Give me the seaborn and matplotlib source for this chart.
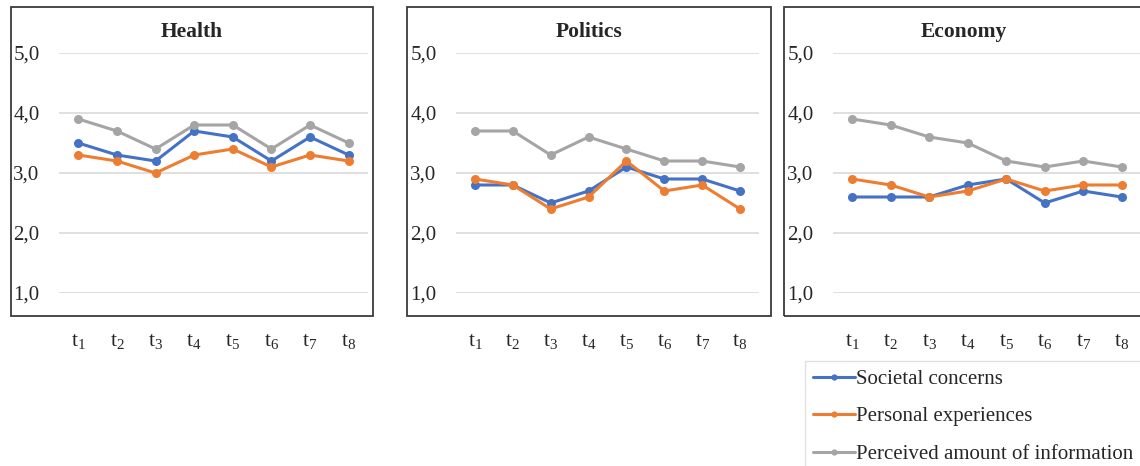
import numpy as np
import pandas as pd
import matplotlib
matplotlib.use("Agg")
import matplotlib.pyplot as plt
from matplotlib.patches import Rectangle
from matplotlib.lines import Line2D
import seaborn as sns

# data
times = ["t$_1$", "t$_2$", "t$_3$", "t$_4$", "t$_5$", "t$_6$", "t$_7$", "t$_8$"]
domains = ["Health", "Politics", "Economy"]
series = ["Societal concerns", "Personal experiences", "Perceived amount of information"]

health_societal = [3.5, 3.3, 3.2, 3.7, 3.6, 3.2, 3.6, 3.3]
health_personal = [3.3, 3.2, 3.0, 3.3, 3.4, 3.1, 3.3, 3.2]
health_info = [3.9, 3.7, 3.4, 3.8, 3.8, 3.4, 3.8, 3.5]

politics_societal = [2.8, 2.8, 2.5, 2.7, 3.1, 2.9, 2.9, 2.7]
politics_personal = [2.9, 2.8, 2.4, 2.6, 3.2, 2.7, 2.8, 2.4]
politics_info = [3.7, 3.7, 3.3, 3.6, 3.4, 3.2, 3.2, 3.1]

economy_societal = [2.6, 2.6, 2.6, 2.8, 2.9, 2.5, 2.7, 2.6]
economy_personal = [2.9, 2.8, 2.6, 2.7, 2.9, 2.7, 2.8, 2.8]
economy_info = [3.9, 3.8, 3.6, 3.5, 3.2, 3.1, 3.2, 3.1]

y_ticks = [1.0, 2.0, 3.0, 4.0, 5.0]
y_labels = ["1,0", "2,0", "3,0", "4,0", "5,0"]

colors = ["#4472C4", "#ED7D31", "#A5A5A5"]

values = {
    "Health": [health_societal, health_personal, health_info],
    "Politics": [politics_societal, politics_personal, politics_info],
    "Economy": [economy_societal, economy_personal, economy_info],
}

rows = []
for d in domains:
    for s, vals in zip(series, values[d]):
        for i, v in enumerate(vals):
            rows.append({"domain": d, "series": s, "t": i, "value": v})
df = pd.DataFrame(rows)

sns.set_style("white")
plt.rcParams["font.family"] = ["Liberation Serif", "DejaVu Serif"]
plt.rcParams["mathtext.fontset"] = "custom"
plt.rcParams["mathtext.rm"] = "Liberation Serif"
plt.rcParams["mathtext.it"] = "Liberation Serif"

W, H = 1140, 466
fig = plt.figure(figsize=(W / 100, H / 100), dpi=100)

# axes placement in pixels: (left, right)
axes_px = [(59, 368), (456, 759), (833, 1141)]
boxes_px = [(11, 373), (407, 771), (784, 1150)]
title_x = [192, 589, 964]
top_px, bot_px = 53, 293
box_top, box_bot = 7, 316

for d, (l, r), (bl, br), tx in zip(domains, axes_px, boxes_px, title_x):
    ax = fig.add_axes([l / W, 1 - bot_px / H, (r - l) / W, (bot_px - top_px) / H])
    sns.lineplot(data=df[df.domain == d], x="t", y="value", hue="series",
                 hue_order=series, palette=colors, marker="o", markersize=6.5,
                 markeredgewidth=0, linewidth=2.2, ax=ax, legend=False)
    ax.set_xlim(-0.5, 7.5)
    ax.set_ylim(1.0, 5.0)
    ax.set_yticks(y_ticks)
    ax.set_yticklabels(y_labels)
    ax.set_xticks(range(len(times)))
    ax.set_xticklabels(times)
    ax.tick_params(axis="y", length=0, pad=14, labelsize=15)
    ax.tick_params(axis="x", length=0, pad=28, labelsize=15.5)
    ax.grid(axis="y", color="#D9D9D9", linewidth=1.2)
    ax.set_axisbelow(True)
    for sp in ax.spines.values():
        sp.set_visible(False)
    ax.patch.set_alpha(0)
    ax.set_xlabel("")
    ax.set_ylabel("")

    # outer chart box
    fig.add_artist(Rectangle((bl / W, 1 - box_bot / H), (br - bl) / W, (box_bot - box_top) / H,
                             transform=fig.transFigure, fill=False,
                             edgecolor="#3A3A3A", linewidth=1.3, zorder=0))
    fig.text(tx / W, 1 - 32 / H, d, ha="center", va="center",
             fontsize=15.5, fontweight="bold")

handles = [Line2D([], [], color=c, linewidth=2.2, marker="o", markersize=4.5,
                  markeredgewidth=0) for c in colors]
leg = fig.legend(handles, series, loc="upper left",
                 bbox_to_anchor=(805 / W, 1 - 361 / H), fontsize=15,
                 frameon=True, fancybox=False, handlelength=2.0,
                 handletextpad=0.05, labelspacing=0.86, borderpad=0.4,
                 borderaxespad=0)
leg.get_frame().set_edgecolor("#D9D9D9")
leg.get_frame().set_linewidth(1.0)

fig.savefig("out.png", dpi=100)
